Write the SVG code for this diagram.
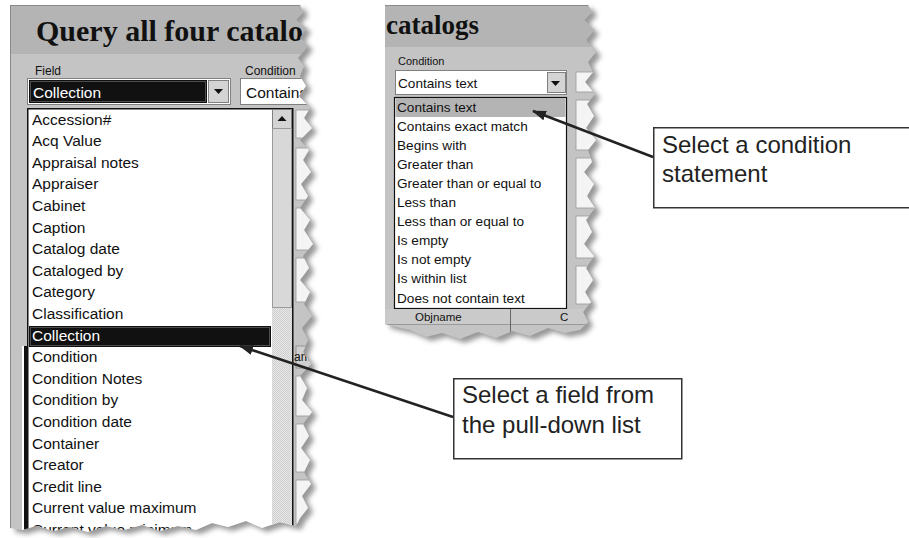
<svg xmlns="http://www.w3.org/2000/svg" width="909" height="538" viewBox="0 0 909 538">
<style>
.bg{fill:#c4c4c4}
.band{fill:#b4b4b4}
.title{font-family:"Liberation Serif",serif;font-weight:bold;font-size:27px;fill:#111}
.lbl{font-family:"Liberation Sans",Arial,sans-serif;font-size:12px;fill:#111}
.li{font-family:"Liberation Sans",Arial,sans-serif;font-size:15.5px;fill:#111}
.ri{font-family:"Liberation Sans",Arial,sans-serif;font-size:13.6px;fill:#111}
.inv{fill:#fff}
.btn{fill:#d4d4d4;stroke:#808080;stroke-width:1}
.frag{fill:#f4f4f4;stroke:#9a9a9a;stroke-width:0.8}
.co{fill:#fff;stroke:#333;stroke-width:1.5}
.ct{font-family:"Liberation Sans",Arial,sans-serif;font-size:24px;fill:#222}
.conn{stroke:#222;stroke-width:2.5;fill:none;marker-end:url(#ah)}
</style>
<defs>
<marker id="ah" viewBox="0 0 14 10" markerWidth="14" markerHeight="10" markerUnits="userSpaceOnUse" refX="13" refY="5" orient="auto">
<path d="M0,0 L14,5 L0,10 z" fill="#222"/>
</marker>
<pattern id="dither" width="2" height="2" patternUnits="userSpaceOnUse">
<rect width="2" height="2" fill="#e6e6e6"/>
<rect width="1" height="1" fill="#cfcfcf"/>
<rect x="1" y="1" width="1" height="1" fill="#cfcfcf"/>
</pattern>
<filter id="sh" x="-10%" y="-10%" width="130%" height="130%">
<feGaussianBlur stdDeviation="2.5"/>
</filter>
<path id="edgeL" d="M10,5 L300,5 L303,12 L296,20 L306,28 L300,38 L308,46 L298,58 L304,66 L300,76 L306,86 L299,96 L310,108 L304,118 L312,128 L300,140 L309,150 L303,160 L311,172 L301,184 L308,196 L300,208 L310,220 L304,230 L313,244 L303,256 L309,268 L300,280 L310,292 L304,304 L312,316 L302,328 L308,340 L303,352 L311,364 L300,376 L307,388 L302,400 L312,412 L303,424 L309,436 L301,448 L310,460 L304,472 L311,484 L302,496 L308,508 L300,518 L296,526 L280,522 L262,528 L246,521 L228,527 L212,523 L196,530 L178,526 L160,531 L142,525 L124,530 L106,526 L88,532 L70,527 L54,531 L36,526 L22,530 L10,528 Z"/>
<path id="edgeR" d="M385,5 L588,5 L592,12 L584,20 L594,30 L586,40 L596,52 L588,62 L593,72 L585,82 L595,94 L587,104 L594,116 L586,128 L596,140 L588,150 L592,162 L584,172 L594,184 L587,196 L595,208 L586,220 L592,232 L584,244 L594,256 L586,268 L593,280 L585,292 L591,302 L583,312 L588,322 L580,330 L565,333 L548,328 L530,336 L512,331 L496,338 L478,332 L460,339 L442,333 L426,337 L410,330 L396,327 L385,324 Z"/>
<clipPath id="clipL"><use href="#edgeL"/></clipPath>
<clipPath id="clipR"><use href="#edgeR"/></clipPath>
</defs>

<g id="panel-left">
<use href="#edgeL" fill="#555" opacity="0.6" transform="translate(5,4)" filter="url(#sh)"/>
<g clip-path="url(#clipL)">
<rect x="0" y="0" width="330" height="538" class="bg"/>
<rect x="10" y="5" width="320" height="49" class="band"/>
<line x1="10" y1="5.5" x2="330" y2="5.5" stroke="#8a8a8a" stroke-width="1"/>
<line x1="10.5" y1="5" x2="10.5" y2="538" stroke="#8a8a8a" stroke-width="1"/>
<text x="36" y="41" class="title" style="font-size:30px">Query all four catalo</text>
<text x="35" y="75" class="lbl">Field</text>
<text x="245" y="75" class="lbl">Condition</text>
<!-- field dropdown -->
<rect x="27.5" y="78.5" width="203" height="26" fill="#fff" stroke="#808080"/>
<rect x="29" y="80" width="178" height="23" fill="#111"/>
<rect x="30.5" y="81.5" width="175" height="20" fill="none" stroke="#888" stroke-width="1" stroke-dasharray="1,1"/>
<text x="33" y="98" class="li inv">Collection</text>
<rect x="208.5" y="80.5" width="20" height="22" class="btn"/>
<path d="M214,89 L223,89 L218.5,94 z" fill="#111"/>
<!-- condition box (partial) -->
<rect x="240.5" y="78.5" width="80" height="26" fill="#fff" stroke="#808080"/>
<text x="246" y="98" class="li">Contains</text>
<!-- fragments right of list -->
<rect x="296" y="110" width="24" height="28" class="frag"/>
<rect x="296" y="148" width="24" height="52" class="frag"/>
<rect x="296" y="208" width="24" height="42" class="frag"/>
<rect x="296" y="258" width="24" height="44" class="frag"/>
<rect x="296" y="346" width="24" height="22" fill="#d0d0d0" stroke="#888" stroke-width="0.8"/>
<text x="294" y="361" class="lbl">ame</text>
<rect x="296" y="376" width="24" height="40" class="frag"/>
<rect x="296" y="424" width="24" height="48" class="frag"/>
<rect x="296" y="480" width="24" height="44" class="frag"/>
<!-- grid edge left of list -->
<rect x="22" y="346" width="3" height="200" fill="#fff"/>
<rect x="24" y="346" width="4" height="200" fill="#111"/>
<!-- list -->
<rect x="27.75" y="108.75" width="265" height="440" fill="#fff" stroke="#111" stroke-width="1.5"/>
<rect x="29" y="326" width="242" height="21" fill="#111"/>
<rect x="30.5" y="327.5" width="239" height="18" fill="none" stroke="#888" stroke-width="1" stroke-dasharray="1,1"/>
<!-- scrollbar -->
<rect x="272" y="109.5" width="20" height="430" fill="url(#dither)"/>
<rect x="272.5" y="109.5" width="19" height="19" class="btn"/>
<path d="M277.5,121 L286.5,121 L282,116 z" fill="#111"/>
<rect x="272.5" y="128.5" width="19" height="179" fill="#d8d8d8" stroke="#9a9a9a" stroke-width="1"/>
<g class="li">
<text x="32" y="124.5">Accession#</text>
<text x="32" y="146.1">Acq Value</text>
<text x="32" y="167.7">Appraisal notes</text>
<text x="32" y="189.3">Appraiser</text>
<text x="32" y="210.9">Cabinet</text>
<text x="32" y="232.5">Caption</text>
<text x="32" y="254.1">Catalog date</text>
<text x="32" y="275.7">Cataloged by</text>
<text x="32" y="297.3">Category</text>
<text x="32" y="318.9">Classification</text>
<text x="32" y="340.5" class="inv">Collection</text>
<text x="32" y="362.1">Condition</text>
<text x="32" y="383.7">Condition Notes</text>
<text x="32" y="405.3">Condition by</text>
<text x="32" y="426.9">Condition date</text>
<text x="32" y="448.5">Container</text>
<text x="32" y="470.1">Creator</text>
<text x="32" y="491.7">Credit line</text>
<text x="32" y="513.3">Current value maximum</text>
<text x="32" y="534.9">Current value minimum</text>
</g>
</g>
</g>

<g id="panel-right">
<use href="#edgeR" fill="#555" opacity="0.6" transform="translate(5,4)" filter="url(#sh)"/>
<g clip-path="url(#clipR)">
<rect x="380" y="0" width="230" height="345" class="bg"/>
<rect x="380" y="5" width="230" height="42" class="band"/>
<line x1="380" y1="5.5" x2="610" y2="5.5" stroke="#8a8a8a" stroke-width="1"/>
<text x="386" y="34" class="title">catalogs</text>
<text x="398" y="65" class="lbl" style="font-size:11px">Condition</text>
<rect x="395.5" y="70.5" width="171" height="24" fill="#fff" stroke="#808080"/>
<text x="398" y="88" class="ri">Contains text</text>
<rect x="547.5" y="72.5" width="18" height="20" class="btn"/>
<path d="M551,81 L560,81 L555.5,86 z" fill="#111"/>
<!-- next column fragments -->
<rect x="576" y="72" width="24" height="20" class="frag"/>
<rect x="576" y="100" width="24" height="50" class="frag"/>
<rect x="576" y="158" width="24" height="50" class="frag"/>
<rect x="576" y="216" width="24" height="42" class="frag"/>
<rect x="576" y="266" width="24" height="38" class="frag"/>
<!-- list -->
<rect x="394.5" y="97.5" width="172" height="211" fill="#fff" stroke="#111" stroke-width="1.2"/>
<rect x="395.5" y="98" width="170" height="19" fill="#b4b4b4"/>
<rect x="380" y="309" width="230" height="16" fill="#cacaca"/>
<line x1="380" y1="324.5" x2="610" y2="324.5" stroke="#999"/>
<line x1="510.5" y1="309" x2="510.5" y2="345" stroke="#666"/>
<text x="415" y="321" class="lbl" style="font-size:11.5px">Objname</text>
<text x="560" y="321" class="lbl" style="font-size:11.5px">C</text>
<g class="ri">
<text x="397" y="111.5">Contains text</text>
<text x="397" y="130.6">Contains exact match</text>
<text x="397" y="149.7">Begins with</text>
<text x="397" y="168.8">Greater than</text>
<text x="397" y="187.9">Greater than or equal to</text>
<text x="397" y="207">Less than</text>
<text x="397" y="226.1">Less than or equal to</text>
<text x="397" y="245.2">Is empty</text>
<text x="397" y="264.3">Is not empty</text>
<text x="397" y="283.4">Is within list</text>
<text x="397" y="302.5">Does not contain text</text>
</g>
</g>
</g>

<g id="callout-condition">
<rect x="653.75" y="127.75" width="256" height="80" class="co"/>
<text x="662" y="153" class="ct">Select a condition</text>
<text x="662" y="182" class="ct">statement</text>
</g>

<g id="callout-field">
<rect x="453.75" y="378.75" width="228" height="80" class="co"/>
<text x="462" y="403" class="ct">Select a field from</text>
<text x="462" y="433" class="ct">the pull-down list</text>
</g>

<g id="connectors">
<line x1="653" y1="157" x2="533" y2="111" class="conn"/>
<line x1="453" y1="417" x2="240" y2="346" class="conn"/>
</g>
</svg>
